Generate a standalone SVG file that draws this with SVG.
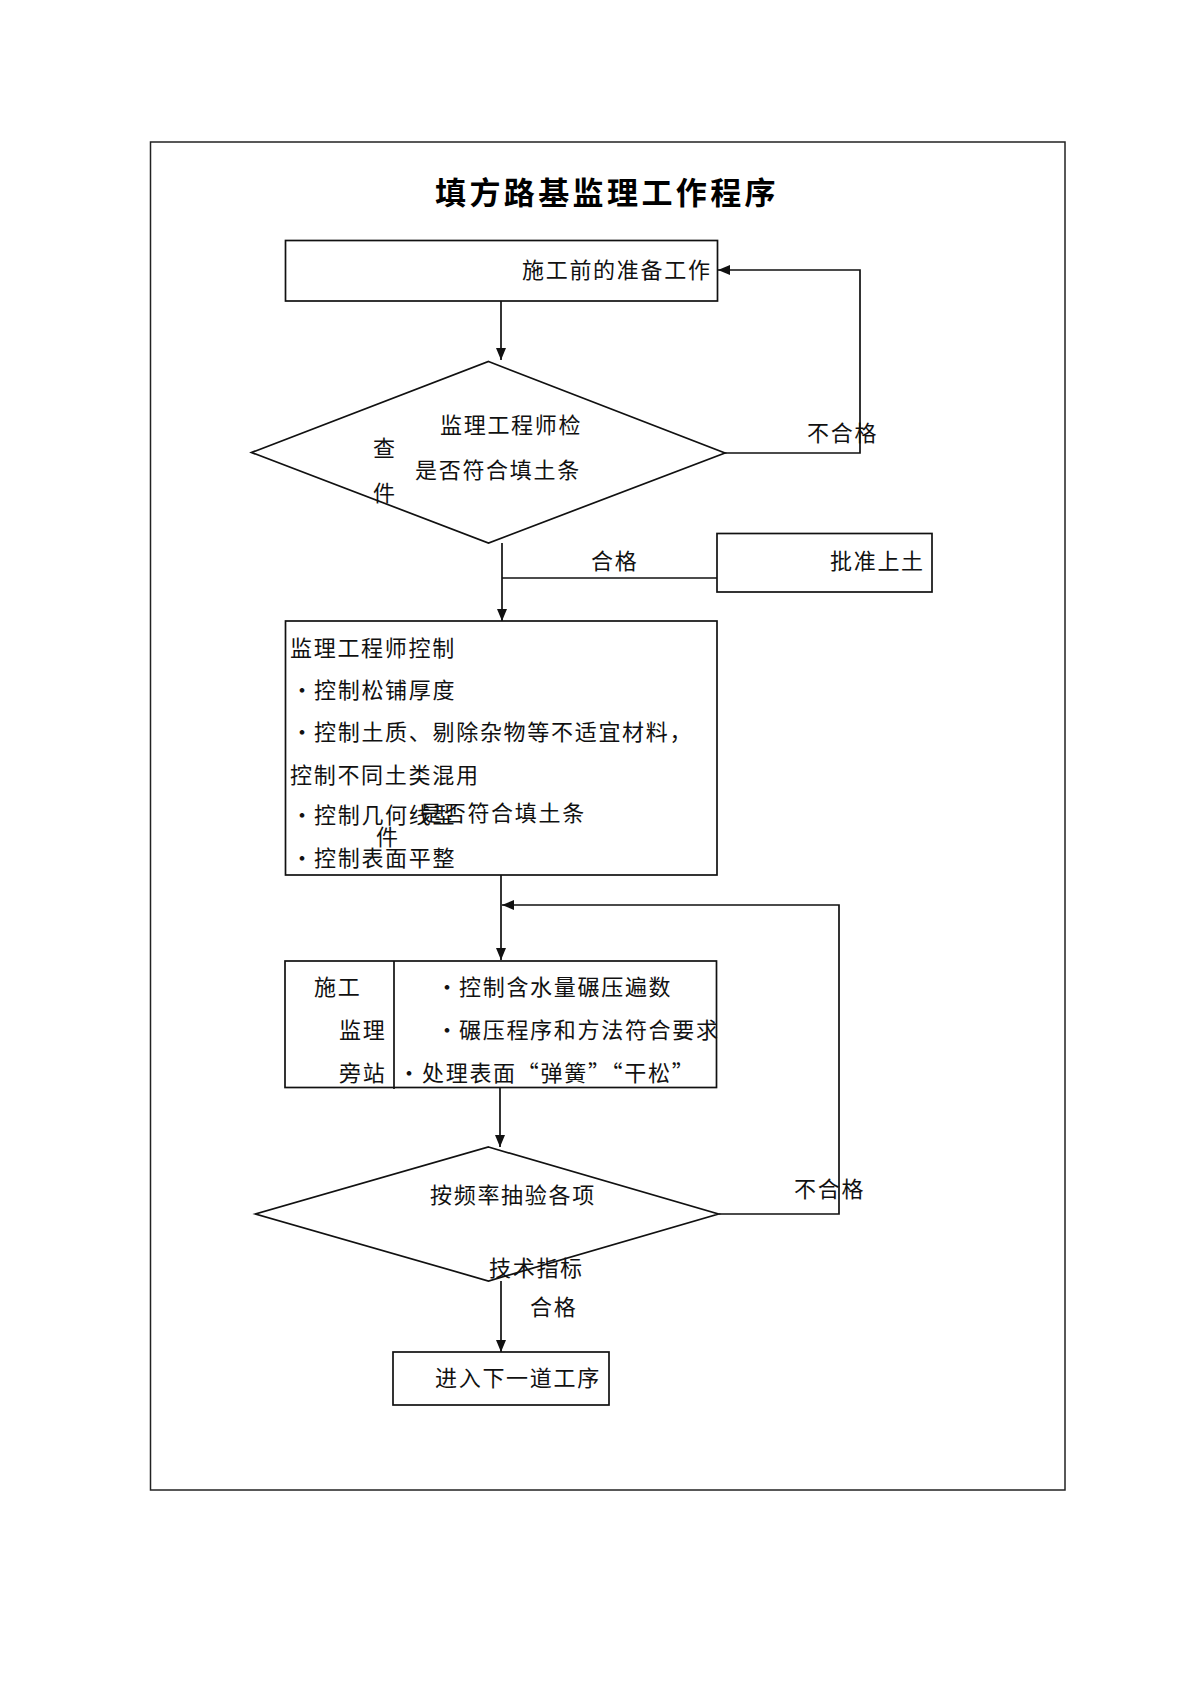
<svg xmlns="http://www.w3.org/2000/svg" width="1200" height="1697" viewBox="0 0 1200 1697">
<style>
.t{font-family:"Noto Sans CJK SC","Noto Sans CJK JP",sans-serif;font-size:22px;letter-spacing:1.7px;fill:#111}
.title{font-family:"Noto Sans CJK SC",sans-serif;font-size:31px;font-weight:bold;letter-spacing:3.4px;fill:#000}
.s{fill:none;stroke:#111;stroke-width:1.7}
.box{fill:#fff;stroke:#111;stroke-width:1.7}
</style>
<defs>
<marker id="ah" markerUnits="userSpaceOnUse" markerWidth="14" markerHeight="14" viewBox="0 0 14 14" refX="13" refY="7" orient="auto">
<path d="M1,2 L13,7 L1,12 Z" fill="#111"/>
</marker>
</defs>
<rect x="0" y="0" width="1200" height="1697" fill="#fff"/>
<rect x="150.5" y="142" width="914.5" height="1348" fill="none" stroke="#222" stroke-width="1.5"/>
<text class="title" x="435" y="204">填方路基监理工作程序</text>

<g id="n1">
<rect class="box" x="285.5" y="240.5" width="432" height="60.5"/>
<text class="t" x="522" y="278">施工前的准备工作</text>
</g>

<g id="n2">
<polygon class="box" points="488.5,361.5 725,453 488.5,543 251.5,452.5"/>
<text class="t" x="440" y="433">监理工程师检</text>
<text class="t" x="373" y="456">查</text>
<text class="t" x="415" y="478">是否符合填土条</text>
<text class="t" x="373" y="501">件</text>
</g>

<g id="n3">
<rect class="box" x="717" y="533.5" width="215" height="58.5"/>
<text class="t" x="830" y="569">批准上土</text>
</g>

<g id="n4">
<rect class="box" x="285.5" y="621" width="431.5" height="254"/>
<text class="t" x="290" y="656">监理工程师控制</text>
<text class="t" x="291" y="698">•</text><text class="t" x="314" y="698">控制松铺厚度</text>
<text class="t" x="291" y="740">•</text><text class="t" x="314" y="740">控制土质、剔除杂物等不适宜材料，</text>
<text class="t" x="290" y="783">控制不同土类混用</text>
<text class="t" x="291" y="823">•</text><text class="t" x="314" y="823">控制几何线型</text>
<text class="t" x="291" y="866">•</text><text class="t" x="314" y="866">控制表面平整</text>
<text class="t" x="420" y="821">是否符合填土条</text>
<text class="t" x="376" y="845">件</text>
</g>

<g id="n5">
<rect class="box" x="285" y="961" width="431.5" height="126.5"/>
<line class="s" x1="394" y1="961" x2="394" y2="1089"/>
<text class="t" x="314" y="995">施工</text>
<text class="t" x="339" y="1038">监理</text>
<text class="t" x="339" y="1081">旁站</text>
<text class="t" x="436" y="995">•</text><text class="t" x="459" y="995">控制含水量碾压遍数</text>
<text class="t" x="436" y="1038">•</text><text class="t" x="459" y="1038">碾压程序和方法符合要求</text>
<text class="t" x="398" y="1081">•</text><text class="t" x="422" y="1081">处理表面“弹簧”“干松”</text>
</g>

<g id="n6">
<polygon class="box" points="488.5,1147 718.5,1214 488.5,1281 255.5,1214"/>
<text class="t" x="430" y="1203">按频率抽验各项</text>
</g>

<g id="n7">
<rect class="box" x="393" y="1352" width="216" height="53"/>
<text class="t" x="435" y="1386">进入下一道工序</text>
</g>

<g id="connectors">
<line class="s" x1="501" y1="301" x2="501" y2="360" marker-end="url(#ah)"/>
<polyline class="s" points="725,453 860,453 860,270 718,270" marker-end="url(#ah)"/>
<line class="s" x1="502" y1="543" x2="502" y2="621" marker-end="url(#ah)"/>
<line class="s" x1="502" y1="578" x2="717" y2="578"/>
<line class="s" x1="501" y1="875" x2="501" y2="960" marker-end="url(#ah)"/>
<polyline class="s" points="718.5,1214 839,1214 839,905 502,905" marker-end="url(#ah)"/>
<line class="s" x1="500" y1="1088" x2="500" y2="1147" marker-end="url(#ah)"/>
<line class="s" x1="501" y1="1281" x2="501" y2="1352" marker-end="url(#ah)"/>
<text class="t" x="807" y="441">不合格</text>
<text class="t" x="591" y="569">合格</text>
<text class="t" x="794" y="1197">不合格</text>
<text class="t" x="489" y="1276">技术指标</text>
<text class="t" x="530" y="1315">合格</text>
</g>
</svg>
